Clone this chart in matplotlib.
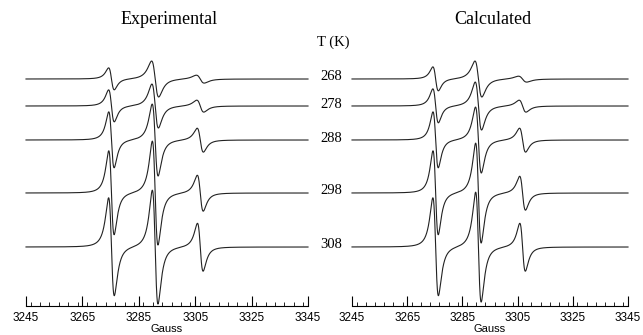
"""
EPR spectra of a nitroxide probe at five temperatures:
experimental traces (left) next to the calculated ones (right).
"""

import numpy as np
import matplotlib
matplotlib.use('Agg')
import matplotlib.pyplot as plt
from matplotlib.ticker import MultipleLocator

# ---- data ----
temps = [268, 278, 288, 298, 308]
line_centers = [3275.3, 3290.8, 3306.8]          # Gauss, low / mid / high field line

# peak height of each derivative line (arbitrary units), rows follow temps
exp_amp = [
    [11, 18, 4],
    [16, 22, 6],
    [28, 36, 12],
    [42, 52, 18],
    [49, 57, 24],
]
# peak-to-peak line width (Gauss)
exp_width = [
    [2.0, 2.5, 2.8],
    [2.0, 2.3, 2.5],
    [1.9, 2.1, 2.2],
    [1.9, 2.0, 2.1],
    [2.0, 2.0, 2.0],
]

calc_amp = [
    [12, 18, 3],
    [17, 24, 6],
    [28, 33, 12],
    [42, 50, 17],
    [49, 55, 24],
]
calc_width = [
    [2.0, 2.5, 3.0],
    [2.0, 2.3, 2.5],
    [1.9, 2.1, 2.2],
    [1.9, 2.0, 2.1],
    [2.0, 2.0, 2.0],
]

field = np.linspace(3245, 3345, 2000)


def deriv_lorentz(x, center, pp_width, height):
    """First-derivative Lorentzian scaled so the low-field peak equals height."""
    gamma = pp_width * np.sqrt(3) / 2
    u = (x - center) / gamma
    return -height * (2 * u / (1 + u ** 2) ** 2) / 0.6495


def spectrum(amps, widths):
    y = np.zeros_like(field)
    for c, w, a in zip(line_centers, widths, amps):
        y += deriv_lorentz(field, c, w, a)
    return y


# ---- layout (pixel units of a 643x335 canvas) ----
W, H = 643, 335
fig = plt.figure(figsize=(W / 100, H / 100), dpi=100)

axis_y = 306
top_y = 40
baselines_px = [79, 106, 140, 193, 247]

panels = [
    (26, 308, 'Experimental', exp_amp, exp_width),
    (352, 628, 'Calculated', calc_amp, calc_width),
]

serif = ['Liberation Serif', 'DejaVu Serif']
sans = ['Liberation Sans', 'DejaVu Sans']

for x0, x1, title, amps, widths in panels:
    ax = fig.add_axes([x0 / W, (H - axis_y) / H, (x1 - x0) / W, (axis_y - top_y) / H])
    ax.set_xlim(3245, 3345)
    ax.set_ylim(0, axis_y - top_y)

    for i, T in enumerate(temps):
        base = axis_y - baselines_px[i]
        ax.plot(field, base + spectrum(amps[i], widths[i]),
                color='#222222', lw=0.8, clip_on=False)

    for side in ('top', 'left', 'right'):
        ax.spines[side].set_visible(False)
    ax.spines['bottom'].set_linewidth(0.8)
    ax.set_yticks([])
    ax.set_xticks(range(3245, 3346, 20))
    ax.xaxis.set_minor_locator(MultipleLocator(20 / 6))
    ax.tick_params(axis='x', which='major', direction='in', length=7, width=0.8,
                   pad=4, labelsize=8.5)
    ax.tick_params(axis='x', which='minor', direction='in', length=3, width=0.6)
    for lab in ax.get_xticklabels():
        lab.set_family(sans)
    ax.set_xlabel('Gauss', fontsize=8, family=sans, labelpad=0)

    fig.text((x0 + x1) / 2 / W + 0.004, 1 - 20 / H, title, ha='center', va='center',
             fontsize=13, family=serif)

# temperature labels between the panels
fig.text(333 / W, 1 - 42 / H, 'T (K)', ha='center', va='center', fontsize=10.5, family=serif)
for T, yp in zip(temps, baselines_px):
    fig.text(331 / W, 1 - (yp - 2) / H, str(T), ha='center', va='center',
             fontsize=10.5, family=serif)

plt.savefig('out.png', dpi=100)
plt.close()
